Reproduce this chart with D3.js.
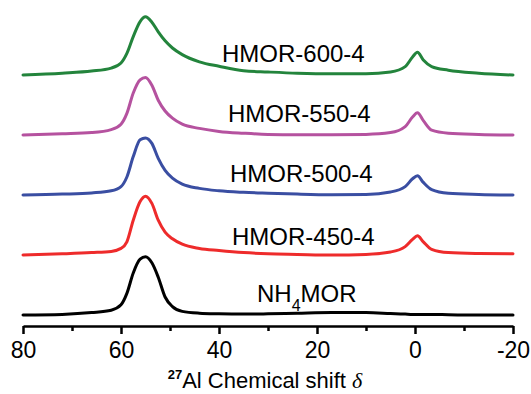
<!DOCTYPE html>
<html>
<head>
<meta charset="utf-8">
<script src="https://cdn.jsdelivr.net/npm/d3@7/dist/d3.min.js"></script>
<style>
  html, body { margin: 0; padding: 0; background: #fff; }
  svg { display: block; }
  text { font-family: "Liberation Sans", Arial, sans-serif; fill: #000; }
</style>
</head>
<body>
<svg id="chart" width="531" height="394"></svg>
<script>
// ---- Data ----
const ppm = [80, 72, 66, 62, 60, 58.8, 57.5, 56.1, 55, 53.7, 52.4, 51, 49.5, 47.5, 44, 40, 35, 30, 24, 17, 10, 5, 2, 0.5, -0.5, -1.7, -3.4, -6.8, -13, -20];

const seriesNames = ["NH4MOR", "HMOR-450-4", "HMOR-500-4", "HMOR-550-4", "HMOR-600-4"];

const nh4mor   = [0, 1, 4, 8, 17, 36, 70, 93, 97, 87, 63, 30, 14, 6, 3, 2, 1.5, 2, 3, 4, 4, 2.5, 1.5, 1, 1, 1, 1, 0.5, 0, 0];
const hmor450  = [0, 2, 4, 6, 11, 22, 58, 89, 98, 86, 58, 38, 27, 18, 11, 7.5, 4, 2, 1, 0, 1, 5, 14, 26, 32, 22, 9.5, 4, 2.5, 2];
const hmor500  = [0, 1.5, 3.5, 7, 14, 30, 64, 92, 95, 86, 61, 41, 28, 18, 11, 7, 4.5, 3, 1.5, 0.5, 1, 5, 14, 27, 32, 21, 9, 3, 1, 0];
const hmor550  = [0, 2, 4, 9, 18, 36, 70, 92, 96, 83, 58, 40, 28, 18, 11, 6, 3, 1, 0.5, 0.5, 1, 4, 14, 30, 37, 24, 8, 3, 1, 0];
const hmor600  = [0, 3, 6.5, 11.5, 20, 36, 64, 89, 97, 88, 72, 57, 45, 34, 22, 14.5, 7, 5, 3, 2, 2, 5, 14, 30, 38, 25, 14, 8, 3, 0];

const offsets = [0, 100, 200, 300, 400];

const majorTicks = [80, 60, 40, 20, 0, -20];
const majorTickLabels = ["80", "60", "40", "20", "0", "-20"];
const minorTicks = [70, 50, 30, 10, -10];
const xTitle = "Al Chemical shift ";

// ---- Layout / style ----
const colors = ["#000000", "#ee2b2b", "#3a4ea2", "#b5529f", "#23843c"];
const seriesValues = [nh4mor, hmor450, hmor500, hmor550, hmor600];
const labelPos = [[257, 302], [232, 245], [230, 182], [228, 122], [222, 62]];

const svg = d3.select("#chart");
const x = d3.scaleLinear().domain([80, -20]).range([23, 513]);
const y = d3.scaleLinear().domain([0, 500]).range([315, 15]);
const axisY = 326;

const line = d3.line()
  .x(d => x(d[0]))
  .y(d => y(d[1]))
  .curve(d3.curveMonotoneX);

seriesValues.forEach((vals, i) => {
  const pts = ppm.map((p, j) => [p, vals[j] + offsets[i]]);
  svg.append("path")
    .attr("d", line(pts))
    .attr("fill", "none")
    .attr("stroke", colors[i])
    .attr("stroke-width", 3)
    .attr("stroke-linejoin", "round")
    .attr("stroke-linecap", "round");
});

// Labels
seriesNames.forEach((name, i) => {
  const t = svg.append("text")
    .attr("x", labelPos[i][0])
    .attr("y", labelPos[i][1])
    .attr("font-size", 24);
  if (name === "NH4MOR") {
    t.append("tspan").text("NH");
    t.append("tspan").text("4").attr("font-size", 16).attr("dy", 9);
    t.append("tspan").text("MOR").attr("dy", -9);
  } else {
    t.text(name);
  }
});

// Axis
const gAxis = svg.append("g").attr("transform", `translate(0,${axisY})`);
const major = d3.axisBottom(x).tickValues(majorTicks).tickSize(8).tickSizeOuter(0)
  .tickFormat((d, i) => majorTickLabels[i]);
gAxis.call(major);
gAxis.select(".domain").attr("stroke", "#000").attr("stroke-width", 2.5);
gAxis.selectAll(".tick line").attr("stroke", "#000").attr("stroke-width", 2.5);
gAxis.selectAll(".tick text")
  .attr("font-family", "'Liberation Sans', Arial, sans-serif")
  .attr("font-size", 23)
  .attr("fill", "#000")
  .attr("y", 15)
  .attr("dy", "0.72em");

const gMinor = svg.append("g").attr("transform", `translate(0,${axisY})`);
gMinor.call(d3.axisBottom(x).tickValues(minorTicks).tickSize(5).tickSizeOuter(0).tickFormat(""));
gMinor.select(".domain").remove();
gMinor.selectAll(".tick line").attr("stroke", "#000").attr("stroke-width", 2.5);

// Axis title
const title = svg.append("text")
  .attr("x", 265)
  .attr("y", 388)
  .attr("text-anchor", "middle")
  .attr("font-size", 22);
title.append("tspan").text("27").attr("font-size", 13).attr("font-weight", "bold").attr("dy", -9);
title.append("tspan").text(xTitle).attr("dy", 9);
title.append("tspan").text("δ").attr("font-family", "'Liberation Serif', 'DejaVu Serif', serif").attr("font-style", "italic");
</script>
</body>
</html>
